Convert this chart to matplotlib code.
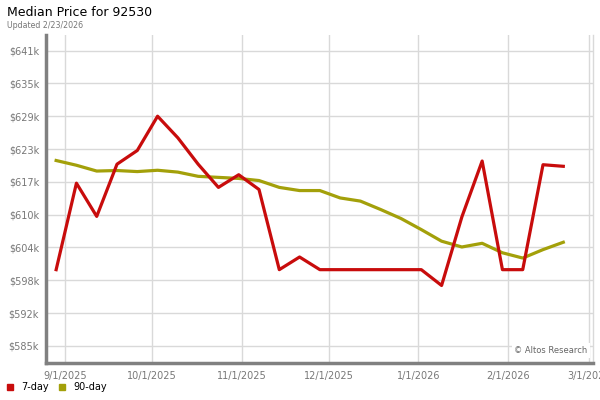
import matplotlib
matplotlib.use('Agg')
import matplotlib.pyplot as plt
import datetime as dt

# weekly series, first point 8/29/2025
start = dt.date(2025, 8, 29)
dates = [start + dt.timedelta(days=7 * i) for i in range(26)]

price_7day = [599.9, 616.3, 610.0, 619.9, 622.5, 629.0, 624.9, 619.9, 615.5, 617.9,
              615.1, 599.9, 602.3, 599.9, 599.9, 599.9, 599.9, 599.9, 599.9, 596.9,
              609.9, 620.5, 599.9, 599.9, 619.8, 619.5]
price_90day = [620.6, 619.7, 618.6, 618.7, 618.5, 618.75, 618.4, 617.6, 617.4, 617.2,
               616.8, 615.5, 614.9, 614.9, 613.5, 612.9, 611.3, 609.6, 607.5, 605.3,
               604.2, 604.9, 603.1, 602.1, 603.7, 605.1]

ytick_vals = [585.45 + 6.22 * i for i in range(10)]
ytick_labels = ['$585k', '$592k', '$598k', '$604k', '$610k', '$617k',
                '$623k', '$629k', '$635k', '$641k']
xtick_dates = [dt.date(2025, 9, 1), dt.date(2025, 10, 1), dt.date(2025, 11, 1),
               dt.date(2025, 12, 1), dt.date(2026, 1, 1), dt.date(2026, 2, 1),
               dt.date(2026, 3, 1)]
xtick_labels = ['9/1/2025', '10/1/2025', '11/1/2025', '12/1/2025',
                '1/1/2026', '2/1/2026', '3/1/2026']

RED = '#c80c0c'
OLIVE = '#a3a00a'
GRAY = '#777777'

fig = plt.figure(figsize=(6, 4), dpi=100)
ax = fig.add_axes([46 / 600, 37 / 400, 547 / 600, 328 / 400])

ax.plot(dates, price_90day, color=OLIVE, linewidth=2.3, solid_joinstyle='round')
ax.plot(dates, price_7day, color=RED, linewidth=2.3, solid_joinstyle='round')

ax.set_xlim(dt.datetime(2025, 8, 25, 12), dt.datetime(2026, 3, 2, 6))
ax.set_ylim(582.2, 644.4)
ax.set_xticks(xtick_dates)
ax.set_xticklabels(xtick_labels)
ax.set_yticks(ytick_vals)
ax.set_yticklabels(ytick_labels)
ax.tick_params(axis='both', length=0, labelsize=7, labelcolor=GRAY)
ax.tick_params(axis='x', pad=6)
ax.tick_params(axis='y', pad=5)
ax.grid(True, color='#d9d9d9', linewidth=1)
ax.set_axisbelow(True)

for s in ['top', 'right']:
    ax.spines[s].set_visible(False)
for s in ['left', 'bottom']:
    ax.spines[s].set_color('#808080')
    ax.spines[s].set_linewidth(2.5)
ax.plot([1, 1], [0, 1], transform=ax.transAxes, color='#d9d9d9', linewidth=1, clip_on=False)

ax.text(0.99, 0.025, '\u00a9 Altos Research', transform=ax.transAxes, ha='right', va='bottom',
        fontsize=6, color='#666666',
        bbox=dict(facecolor='white', edgecolor='none', pad=2))

fig.text(7 / 600, 1 - 13 / 400, 'Median Price for 92530', fontsize=9, va='center', ha='left')
fig.text(7 / 600, 1 - 25 / 400, 'Updated 2/23/2026', fontsize=5.7, color=GRAY, va='center', ha='left')

# legend
fig.patches.append(plt.Rectangle((7 / 600, 1 - 390 / 400), 6 / 600, 6 / 400, color=RED, transform=fig.transFigure))
fig.text(21 / 600, 1 - 387 / 400, '7-day', fontsize=7, va='center', ha='left')
fig.patches.append(plt.Rectangle((59 / 600, 1 - 390 / 400), 6 / 600, 6 / 400, color=OLIVE, transform=fig.transFigure))
fig.text(73 / 600, 1 - 387 / 400, '90-day', fontsize=7, va='center', ha='left')

fig.savefig('out.png', dpi=100)
